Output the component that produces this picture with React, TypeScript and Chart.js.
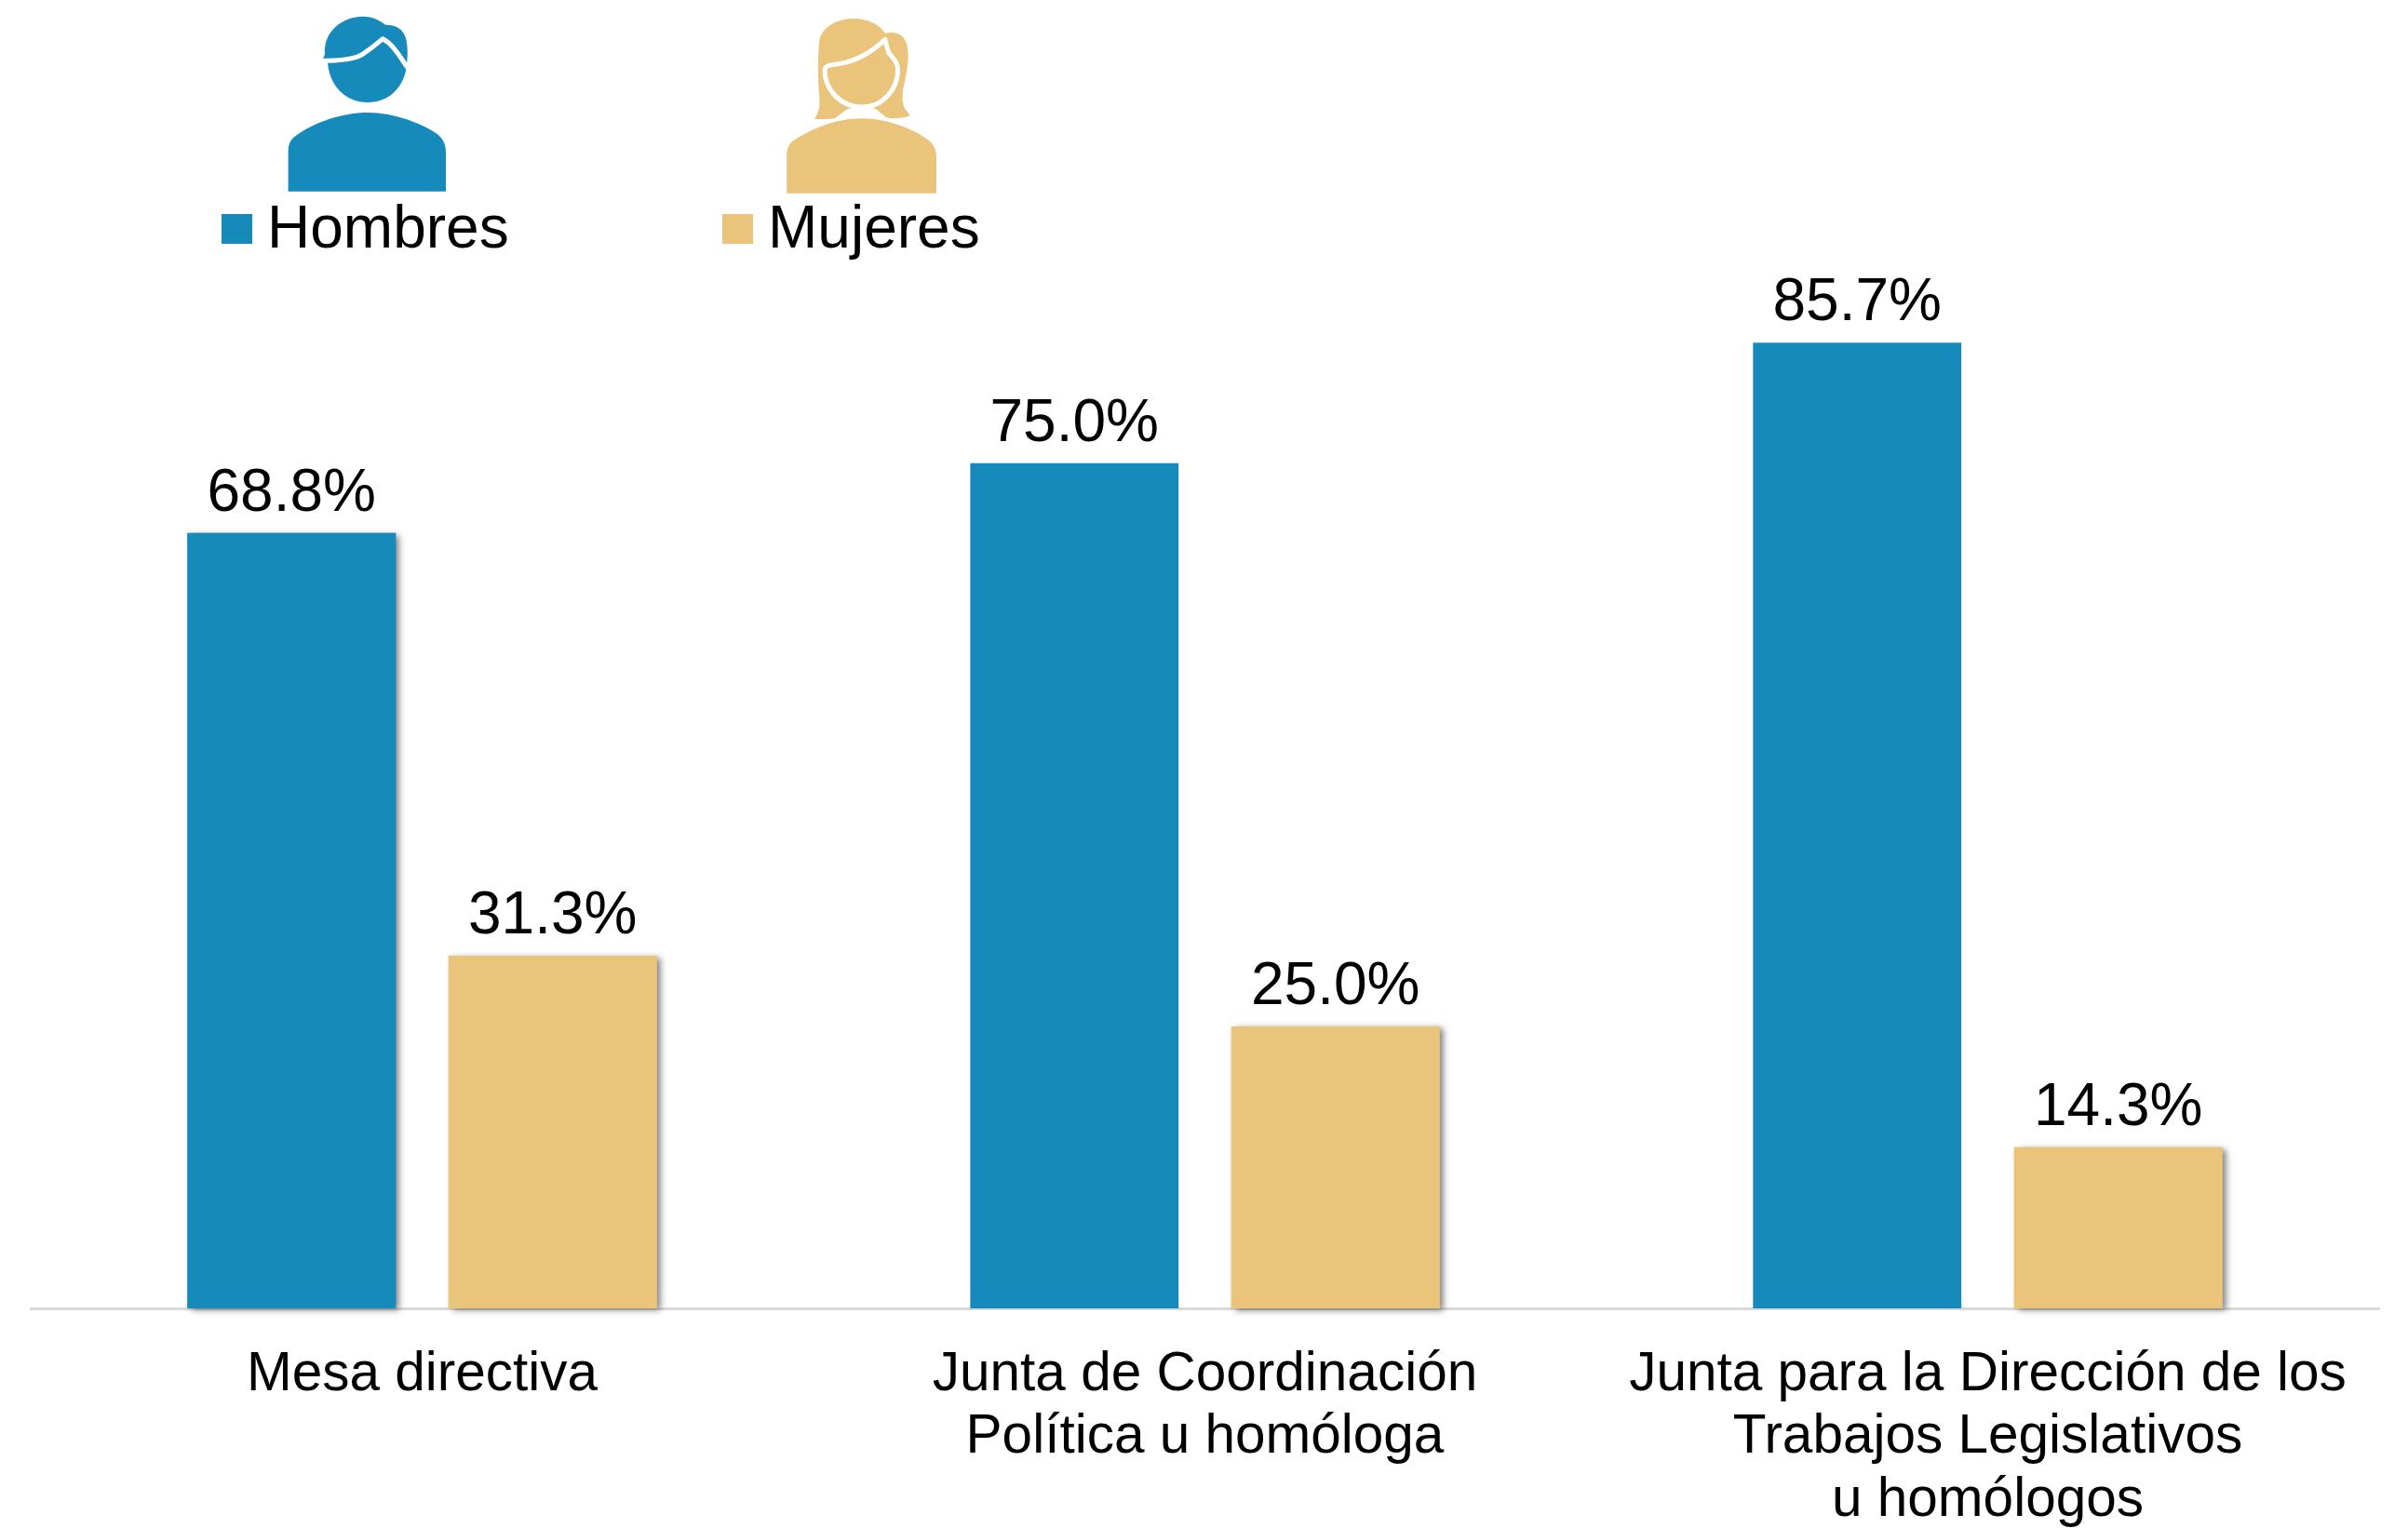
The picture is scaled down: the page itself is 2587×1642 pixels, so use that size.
import React, { useEffect, useRef } from "react";
import { Chart, registerables } from "chart.js";

Chart.register(...registerables);

const categories = [
  ["Mesa directiva"],
  ["Junta de Coordinación", "Política u homóloga"],
  ["Junta para la Dirección de los", "Trabajos Legislativos", "u homólogos"],
];
const hombres = [68.8, 75.0, 85.7];
const mujeres = [31.3, 25.0, 14.3];
const hombresShadow = [true, false, false];
const mujeresShadow = [true, true, true];
const BLUE = "#168BBB";
const TAN = "#E9C47A";
const FONT = '"Liberation Sans", Arial, sans-serif';

const manHead = "M256,188 C262,175 258,165 260,150 C264,100 290,55 330,53 C350,53 365,68 373,80 C398,78 410,105 412,130 C415,160 415,180 412,222 C405,285 378,330 340,330 C295,330 268,270 265,203 Z";
const manLine = "M250,196 C285,196 315,192 330,175 C345,158 358,140 368,125 C385,140 395,170 416,222";
const manBody = "M191,617 L191,490 C191,465 195,450 205,438 C240,395 290,363 340,363 C390,363 445,400 472,435 C482,450 486,470 486,490 L486,617 Z";
const womanHair = "M1176,383 C1186,355 1186,340 1185,310 C1182,260 1182,180 1185,130 C1190,90 1215,60 1250,60 C1280,60 1300,85 1308,107 C1325,102 1340,105 1347,135 C1355,170 1350,220 1345,260 C1340,300 1338,320 1345,350 L1355,373 C1340,382 1320,385 1310,378 L1290,350 C1275,345 1255,345 1238,350 L1215,380 C1205,385 1190,385 1176,383 Z";
const womanFace = "M1308,127 C1285,165 1255,195 1225,205 C1205,210 1197,210 1195,225 C1195,290 1225,345 1265,345 C1305,345 1332,285 1332,225 C1332,195 1320,185 1315,170 C1310,150 1310,140 1308,127 Z";
const womanBody = "M1124,623 L1124,500 C1124,480 1128,465 1135,455 C1170,415 1215,382 1265,382 C1315,382 1365,420 1392,455 C1400,470 1404,485 1404,505 L1404,623 Z";

function place(d: string) {
  const out = new Path2D();
  out.addPath(new Path2D(d), new DOMMatrix([1 / 1.742, 0, 0, 1 / 3, 200, 0]));
  return out;
}

const decorations = {
  id: "decorations",
  afterDraw(chart: any) {
    const { ctx } = chart;
    ctx.save();
    ctx.fillStyle = BLUE;
    ctx.fill(place(manHead));
    ctx.fill(place(manBody));
    ctx.fillStyle = TAN;
    ctx.fill(place(womanHair));
    ctx.fill(place(womanBody));
    ctx.strokeStyle = "#fff";
    ctx.lineWidth = 5;
    ctx.lineJoin = "round";
    ctx.stroke(place(manLine));
    ctx.stroke(place(womanFace));

    ctx.font = `64px ${FONT}`;
    ctx.textBaseline = "alphabetic";
    const legendX = [238, 776];
    chart.data.datasets.forEach((ds: any, i: number) => {
      ctx.fillStyle = ds.backgroundColor;
      ctx.fillRect(legendX[i], 230, 33, 32);
      ctx.fillStyle = "#000";
      ctx.fillText(ds.label, legendX[i] + 49, 266);
    });
    ctx.restore();
  },
};

const barLabels = {
  id: "barLabels",
  afterDatasetsDraw(chart: any) {
    const { ctx } = chart;
    ctx.save();
    ctx.font = `64px ${FONT}`;
    ctx.fillStyle = "#000";
    ctx.textAlign = "center";
    ctx.textBaseline = "alphabetic";
    chart.data.datasets.forEach((ds: any, i: number) => {
      chart.getDatasetMeta(i).data.forEach((el: any, j: number) => {
        ctx.fillText(`${ds.data[j].toFixed(1)}%`, el.x, el.y - 24);
      });
    });
    ctx.restore();
  },
};

const barShadow = {
  id: "barShadow",
  beforeDatasetsDraw(chart: any) {
    const { ctx } = chart;
    const flags = [hombresShadow, mujeresShadow];
    ctx.save();
    ctx.shadowColor = "rgba(0,0,0,0.5)";
    ctx.shadowBlur = 7;
    ctx.shadowOffsetX = 4;
    ctx.shadowOffsetY = 2;
    chart.data.datasets.forEach((ds: any, i: number) => {
      ctx.fillStyle = ds.backgroundColor;
      chart.getDatasetMeta(i).data.forEach((el: any, j: number) => {
        if (flags[i][j]) ctx.fillRect(el.x - el.width / 2, el.y, el.width, el.base - el.y);
      });
    });
    ctx.restore();
  },
};

export default function App() {
  const ref = useRef<HTMLCanvasElement>(null);
  useEffect(() => {
    const chart = new Chart(ref.current!, {
      type: "bar",
      data: {
        labels: categories,
        datasets: [
          { label: "Hombres", data: hombres, backgroundColor: BLUE },
          { label: "Mujeres", data: mujeres, backgroundColor: TAN },
        ],
      },
      options: {
        animation: false,
        responsive: false,
        layout: { padding: { top: 195, left: 33, right: 31, bottom: 0 } },
        datasets: { bar: { categoryPercentage: 0.667, barPercentage: 0.798 } },
        plugins: { legend: { display: false }, title: { display: false }, tooltip: { enabled: false } },
        scales: {
          x: {
            grid: { display: false, drawTicks: false },
            border: { color: "#D9D9D9", width: 3 },
            ticks: { color: "#000", font: { family: FONT, size: 58.5, lineHeight: 1.155 }, padding: 38, maxRotation: 0, autoSkip: false },
            afterFit(scale: any) { scale.height = 236; },
          },
          y: { display: false, min: 0, max: 100 },
        },
      },
      plugins: [barShadow, barLabels, decorations],
    });
    return () => chart.destroy();
  }, []);
  return (
    <canvas
      ref={ref}
      width={2587}
      height={1642}
      style={{ position: "absolute", left: 0, top: 0, display: "block" }}
    />
  );
}
